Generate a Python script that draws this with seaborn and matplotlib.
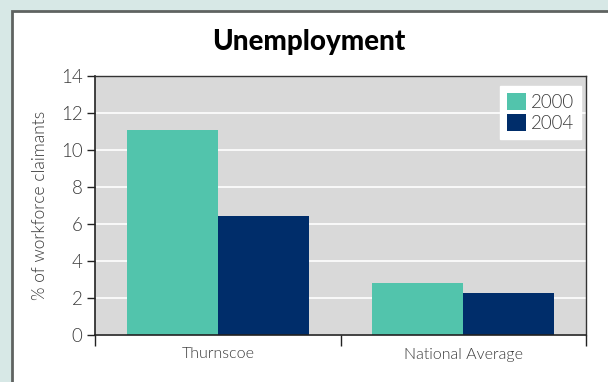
import matplotlib
matplotlib.use("Agg")
import matplotlib.pyplot as plt
from matplotlib.patches import Rectangle
import seaborn as sns
import pandas as pd

areas = ["Thurnscoe", "National Average"]
years = ["2000", "2004"]
rate_2000 = [11.1, 2.8]
rate_2004 = [6.45, 2.25]
yticks = [0, 2, 4, 6, 8, 10, 12, 14]

df = pd.DataFrame({
    "area": areas * 2,
    "year": [years[0]] * 2 + [years[1]] * 2,
    "rate": rate_2000 + rate_2004,
})

sns.set_theme(style="white")
plt.rcParams["font.family"] = ["Lato", "DejaVu Sans"]

TXT = "#3a3a3a"
W = 300

fig = plt.figure(figsize=(6.08, 3.82), dpi=100)
fig.patch.set_facecolor("#d7e8e6")
# white card with a dark frame on its top and left edges
card = Rectangle((12 / 608, -0.05), 1.1, 1 - 11 / 382 + 0.05,
                 transform=fig.transFigure, facecolor="white",
                 edgecolor="#5f6361", linewidth=2, zorder=-10)
fig.add_artist(card)

ax = fig.add_axes([95 / 608, 1 - 335 / 382, 491 / 608, 259 / 382])
ax.set_zorder(1)
ax.set_facecolor("#d9d9d9")
ax.set_axisbelow(True)
ax.yaxis.grid(True, color="white", linewidth=1.2)

palette = {"2000": "#52c4ac", "2004": "#002d6a"}
sns.barplot(data=df, x="area", y="rate", hue="year", hue_order=years,
            palette=palette, width=0.74, gap=0, saturation=1,
            edgecolor="none", linewidth=0, ax=ax)

ax.set_ylim(0, 14)
ax.set_xlim(-0.5, 1.5)
ax.set_yticks(yticks)
ax.set_yticklabels([str(v) for v in yticks], fontsize=13.5, fontweight=W,
                   color=TXT)
ax.set_xticks([0, 1])
ax.set_xticklabels(areas, fontsize=11.5, fontweight=W, color=TXT)
ax.set_xticks([-0.5, 0.5, 1.5], minor=True)
ax.tick_params(axis="x", which="major", length=0, pad=9)
ax.tick_params(axis="x", which="minor", length=8, width=1, color="#222222",
               direction="out", bottom=True)
ax.tick_params(axis="y", length=6, width=1, color="#222222", direction="out",
               left=True, pad=3)

for side in ["left", "bottom"]:
    ax.spines[side].set_color("#222222")
    ax.spines[side].set_linewidth(1.2)
for side in ["top", "right"]:
    ax.spines[side].set_color("#333333")
    ax.spines[side].set_linewidth(1.0)

ax.set_xlabel("")
ax.set_ylabel("% of workforce claimants", fontsize=12.5, fontweight=W,
              color=TXT, labelpad=9)

leg = ax.legend(loc="upper right", bbox_to_anchor=(0.99, 0.96), frameon=True,
                fancybox=False, framealpha=1, edgecolor="white",
                fontsize=13.5, handlelength=1.0, handleheight=1.0,
                handletextpad=0.3, borderpad=0.35, labelspacing=0.2,
                borderaxespad=0)
for t in leg.get_texts():
    t.set_fontweight(W)
    t.set_color(TXT)

fig.text(309 / 608, 1 - 42 / 382, "Unemployment", ha="center", va="center",
         fontsize=20, fontweight="black", color="black")

fig.savefig("out.png", dpi=100, facecolor=fig.get_facecolor())
